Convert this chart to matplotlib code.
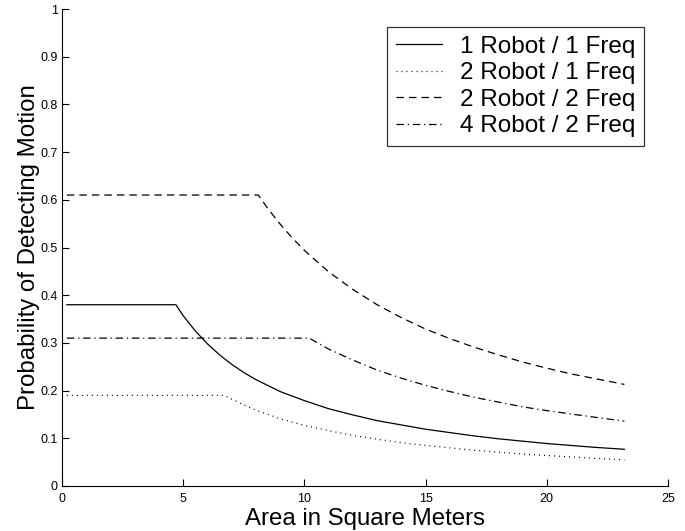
import matplotlib
matplotlib.use("Agg")
import matplotlib.pyplot as plt

# ---- data ----
labels = ["1 Robot / 1 Freq", "2 Robot / 1 Freq", "2 Robot / 2 Freq", "4 Robot / 2 Freq"]

x_1r1f = [0.2, 1, 2, 3, 4, 4.7, 5, 5.5, 6, 6.5, 7, 7.5, 8, 9, 10, 11, 12, 13, 14, 15,
          16, 17, 18, 19, 20, 21, 22, 23.2]
y_1r1f = [0.38, 0.38, 0.38, 0.38, 0.38, 0.38, 0.357, 0.325, 0.298, 0.275, 0.255, 0.238,
          0.223, 0.198, 0.179, 0.162, 0.149, 0.137, 0.128, 0.119, 0.112, 0.105, 0.099,
          0.094, 0.089, 0.085, 0.081, 0.077]

x_2r1f = [0.2, 2, 4, 6, 6.7, 7, 7.5, 8, 9, 10, 11, 12, 13, 14, 15, 16, 17, 18, 19, 20,
          21, 22, 23.2]
y_2r1f = [0.19, 0.19, 0.19, 0.19, 0.19, 0.182, 0.170, 0.159, 0.141, 0.127, 0.116, 0.106,
          0.098, 0.091, 0.085, 0.080, 0.075, 0.071, 0.067, 0.064, 0.061, 0.058, 0.055]

x_2r2f = [0.2, 2, 4, 6, 8.1, 8.5, 9, 9.5, 10, 11, 12, 13, 14, 15, 16, 17, 18, 19, 20,
          21, 22, 23.2]
y_2r2f = [0.61, 0.61, 0.61, 0.61, 0.61, 0.581, 0.549, 0.520, 0.494, 0.449, 0.412, 0.380,
          0.353, 0.329, 0.309, 0.291, 0.275, 0.260, 0.247, 0.235, 0.225, 0.213]

x_4r2f = [0.2, 2, 4, 6, 8, 10.2, 11, 12, 13, 14, 15, 16, 17, 18, 19, 20, 21, 22, 23.2]
y_4r2f = [0.31, 0.31, 0.31, 0.31, 0.31, 0.31, 0.287, 0.264, 0.243, 0.226, 0.211, 0.198,
          0.186, 0.176, 0.166, 0.158, 0.151, 0.144, 0.136]

xticks = [0, 5, 10, 15, 20, 25]
yticks = [0, 0.1, 0.2, 0.3, 0.4, 0.5, 0.6, 0.7, 0.8, 0.9, 1]
yticklabels = ["0", "0.1", "0.2", "0.3", "0.4", "0.5", "0.6", "0.7", "0.8", "0.9", "1"]

plt.rcParams["font.family"] = ["Liberation Sans", "DejaVu Sans"]

fig = plt.figure(figsize=(6.85, 5.31), dpi=100)
ax = fig.add_axes([62 / 685, 45 / 531, 606 / 685, 477 / 531])

lw = 0.9
ax.plot(x_1r1f, y_1r1f, color="black", lw=lw, linestyle="-", label=labels[0])
ax.plot(x_2r1f, y_2r1f, color="black", lw=lw, linestyle=(0, (0.8, 3.2)), label=labels[1])
ax.plot(x_2r2f, y_2r2f, color="black", lw=lw, linestyle=(0, (6, 4)), label=labels[2])
ax.plot(x_4r2f, y_4r2f, color="black", lw=lw, linestyle=(0, (6, 3, 1, 3)), label=labels[3])

ax.set_xlim(0, 25)
ax.set_ylim(0, 1)
ax.set_xticks(xticks)
ax.set_xticklabels([str(t) for t in xticks])
ax.set_yticks(yticks)
ax.set_yticklabels(yticklabels)
ax.tick_params(direction="in", length=5, width=0.8, labelsize=9)
ax.tick_params(axis="x", pad=5)
ax.tick_params(axis="y", pad=3)

for s in ["top", "right"]:
    ax.spines[s].set_visible(False)
for s in ["left", "bottom"]:
    ax.spines[s].set_linewidth(0.8)

ax.set_xlabel("Area in Square Meters", fontsize=17.3, labelpad=2)
ax.set_ylabel("Probability of Detecting Motion", fontsize=17.3, labelpad=0)

leg = ax.legend(loc="upper right", bbox_to_anchor=(644 / 685, 504 / 531),
                bbox_transform=fig.transFigure, fontsize=17.5, frameon=True,
                fancybox=False, edgecolor="black", handlelength=1.9,
                borderpad=0.35, labelspacing=0.19, handletextpad=0.75, borderaxespad=0)
leg.get_frame().set_linewidth(0.9)

fig.savefig("out.png", dpi=100)
